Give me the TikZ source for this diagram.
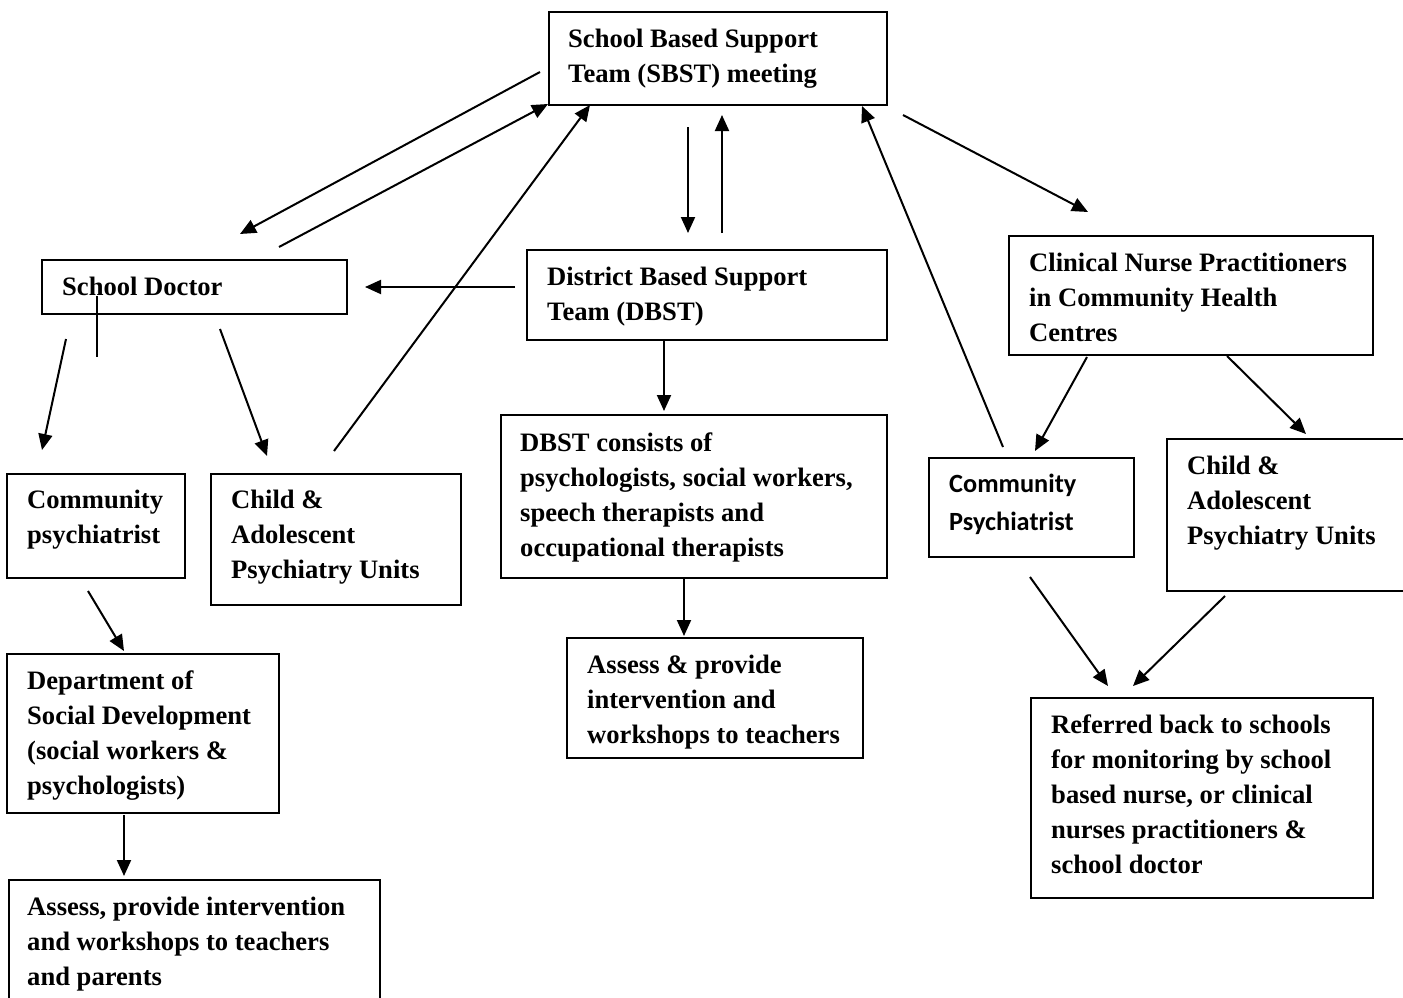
\documentclass[tikz,border=0pt]{standalone}
\usepackage{fontspec}
\setmainfont{Liberation Serif}
\newfontfamily\calibfont{Carlito}
\usetikzlibrary{arrows.meta}
\begin{document}
\begin{tikzpicture}[x=1pt,y=-1pt,
  box/.style={draw, line width=2pt, inner sep=0pt, anchor=north west},
  txt/.style={anchor=north west, inner sep=0pt, align=left, font=\fontsize{26.6}{35}\selectfont\bfseries},
  sanstxt/.style={anchor=north west, inner sep=0pt, align=left, font=\calibfont\fontsize{26.3}{38}\selectfont\bfseries},
  arr/.style={line width=2pt, -{Triangle[length=16pt,width=14pt]}},
  ln/.style={line width=2pt}]
\useasboundingbox (0,0) rectangle (1403,998);

% boxes
\node[box, minimum width=338pt, minimum height=93pt] (sbst) at (548,11) {};
\node[txt] (sbstT) at (568,22.5) {\strut School Based Support\\Team (SBST) meeting};

\node[box, minimum width=305pt, minimum height=54pt] (doc) at (41,259) {};
\node[txt] (docT) at (62,270.5) {\strut School Doctor};

\node[box, minimum width=360pt, minimum height=90pt] (dbst) at (526,249) {};
\node[txt] (dbstT) at (547,260.5) {\strut District Based Support\\Team (DBST)};

\node[box, minimum width=364pt, minimum height=119pt] (cnp) at (1008,235) {};
\node[txt] (cnpT) at (1029,246.5) {\strut Clinical Nurse Practitioners\\in Community Health\\Centres};

\node[box, minimum width=178pt, minimum height=104pt] (cpl) at (6,473) {};
\node[txt] (cplT) at (27,483.5) {\strut Community\\psychiatrist};

\node[box, minimum width=250pt, minimum height=131pt] (capl) at (210,473) {};
\node[txt] (caplT) at (231,483.5) {\strut Child \&\\Adolescent\\Psychiatry Units};

\node[box, minimum width=386pt, minimum height=163pt] (cons) at (500,414) {};
\node[txt] (consT) at (520,426.5) {\strut DBST consists of\\psychologists, social workers,\\speech therapists and\\occupational therapists};

\node[box, minimum width=205pt, minimum height=99pt] (cpr) at (928,457) {};
\node[sanstxt] (cprT) at (949,465.4) {\strut Community\\Psychiatrist};

\node[box, minimum width=250pt, minimum height=152pt] (capr) at (1166,438) {};
\node[txt] (caprT) at (1187,449.5) {\strut Child \&\\Adolescent\\Psychiatry Units};

\node[box, minimum width=296pt, minimum height=120pt] (asm) at (566,637) {};
\node[txt] (asmT) at (587,648.5) {\strut Assess \& provide\\intervention and\\workshops to teachers};

\node[box, minimum width=272pt, minimum height=159pt] (dsd) at (6,653) {};
\node[txt] (dsdT) at (27,664.5) {\strut Department of\\Social Development\\(social workers \&\\psychologists)};

\node[box, minimum width=371pt, minimum height=140pt] (asl) at (8,879) {};
\node[txt] (aslT) at (27,890.5) {\strut Assess, provide intervention\\and workshops to teachers\\and parents};

\node[box, minimum width=342pt, minimum height=200pt] (ref) at (1030,697) {};
\node[txt] (refT) at (1051,708.5) {\strut Referred back to schools\\for monitoring by school\\based nurse, or clinical\\nurses practitioners \&\\school doctor};

% connector end points
\coordinate (a1s) at (540,72);   \coordinate (a1e) at (240,234);
\coordinate (a2s) at (279,247);  \coordinate (a2e) at (548,104);
\coordinate (a3s) at (334,451);  \coordinate (a3e) at (590,105);
\coordinate (a4s) at (688,127);  \coordinate (a4e) at (688,233);
\coordinate (a5s) at (722,233);  \coordinate (a5e) at (722,115);
\coordinate (a6s) at (1003,447); \coordinate (a6e) at (862,106);
\coordinate (a7s) at (903,115);  \coordinate (a7e) at (1088,212);
\coordinate (a8s) at (515,287);  \coordinate (a8e) at (365,287);
\coordinate (l9s) at (97,296);   \coordinate (l9e) at (97,357);
\coordinate (a10s) at (66,339);  \coordinate (a10e) at (42,450);
\coordinate (a11s) at (220,329); \coordinate (a11e) at (267,456);
\coordinate (a12s) at (88,591);  \coordinate (a12e) at (124,651);
\coordinate (a13s) at (124,815); \coordinate (a13e) at (124,876);
\coordinate (a14s) at (664,340); \coordinate (a14e) at (664,411);
\coordinate (a15s) at (684,578); \coordinate (a15e) at (684,636);
\coordinate (a16s) at (1087,357);\coordinate (a16e) at (1035,451);
\coordinate (a17s) at (1227,356);\coordinate (a17e) at (1306,434);
\coordinate (a18s) at (1030,577);\coordinate (a18e) at (1108,686);
\coordinate (a19s) at (1225,596);\coordinate (a19e) at (1133,686);

\draw[arr] (a1s) -- (a1e);
\draw[arr] (a2s) -- (a2e);
\draw[arr] (a3s) -- (a3e);
\draw[arr] (a4s) -- (a4e);
\draw[arr] (a5s) -- (a5e);
\draw[arr] (a6s) -- (a6e);
\draw[arr] (a7s) -- (a7e);
\draw[arr] (a8s) -- (a8e);
\draw[ln]  (l9s) -- (l9e);
\draw[arr] (a10s) -- (a10e);
\draw[arr] (a11s) -- (a11e);
\draw[arr] (a12s) -- (a12e);
\draw[arr] (a13s) -- (a13e);
\draw[arr] (a14s) -- (a14e);
\draw[arr] (a15s) -- (a15e);
\draw[arr] (a16s) -- (a16e);
\draw[arr] (a17s) -- (a17e);
\draw[arr] (a18s) -- (a18e);
\draw[arr] (a19s) -- (a19e);
\end{tikzpicture}
\end{document}
